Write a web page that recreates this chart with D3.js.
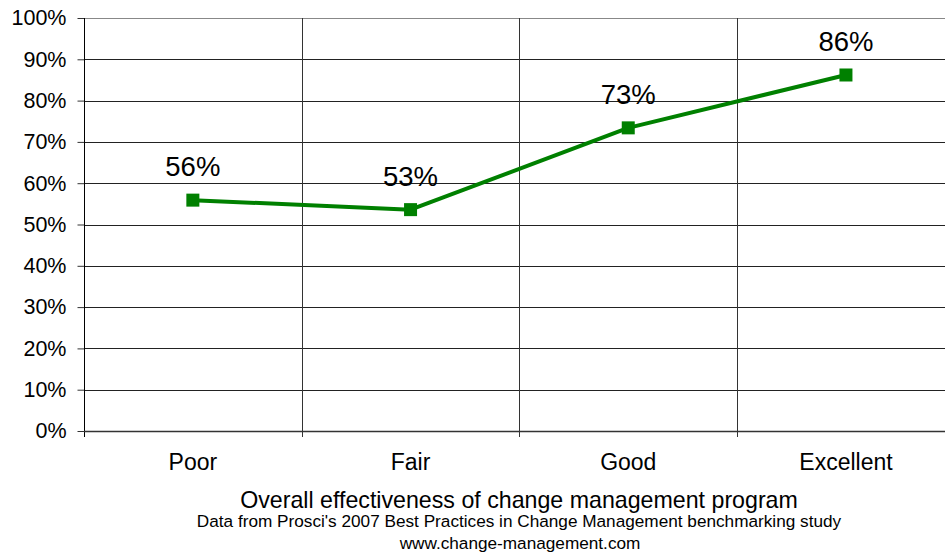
<!DOCTYPE html>
<html>
<head>
<meta charset="utf-8">
<script src="https://cdn.jsdelivr.net/npm/d3@7"></script>
<style>
  html, body { margin: 0; padding: 0; background: #fff; }
  svg { display: block; font-family: Arial, "Liberation Sans", sans-serif; }
</style>
</head>
<body>
<svg id="chart" width="945" height="556"></svg>
<script>
const categories = ["Poor", "Fair", "Good", "Excellent"];
const values = [55.9, 53.6, 73.4, 86.2];
const valueLabels = ["56%", "53%", "73%", "86%"];
const yTicks = [0, 10, 20, 30, 40, 50, 60, 70, 80, 90, 100];
const xTitle = "Overall effectiveness of change management program";
const source1 = "Data from Prosci's 2007 Best Practices in Change Management benchmarking study";
const source2 = "www.change-management.com";

(function () {
const svg = d3.select("#chart");
const pLeft = 84, pTop = 18, pBottom = 431, bandW = 217.7;
const x = d3.scaleBand().domain(categories).range([pLeft, pLeft + bandW * categories.length]).padding(0);
const y = d3.scaleLinear().domain([0, 100]).range([pBottom, pTop]);

// horizontal gridlines
svg.append("g").selectAll("line").data(yTicks.filter(d => d > 0)).join("line")
  .attr("x1", pLeft).attr("x2", 945)
  .attr("y1", d => Math.round(y(d)) + 0.5).attr("y2", d => Math.round(y(d)) + 0.5)
  .attr("stroke", d => d === 100 ? "#888" : "#222").attr("stroke-width", 1);

// vertical gridlines (category boundaries)
const bounds = categories.slice(1).map(c => x(c));
svg.append("g").selectAll("line").data(bounds).join("line")
  .attr("x1", d => Math.round(d) + 0.5).attr("x2", d => Math.round(d) + 0.5)
  .attr("y1", pTop).attr("y2", pBottom + 6)
  .attr("stroke", "#333").attr("stroke-width", 1);

// y axis
const yAxis = d3.axisLeft(y).tickValues(yTicks).tickFormat(d => d + "%").tickSize(7).tickPadding(11);
const gy = svg.append("g").attr("transform", `translate(${pLeft + 0.5},0)`).call(yAxis);
gy.select(".domain").remove();
gy.selectAll(".tick line").attr("stroke", "#333");
gy.selectAll(".tick text").attr("font-size", 21.5).attr("fill", "#000")
  .attr("font-family", "Arial, 'Liberation Sans', sans-serif");
svg.append("line").attr("x1", pLeft + 0.5).attr("x2", pLeft + 0.5).attr("y1", pTop).attr("y2", pBottom + 6)
  .attr("stroke", "#000").attr("stroke-width", 1);

// x axis baseline
svg.append("line").attr("x1", pLeft).attr("x2", 945).attr("y1", pBottom + 0.5).attr("y2", pBottom + 0.5)
  .attr("stroke", "#333").attr("stroke-width", 1.5);
const xAxis = d3.axisBottom(x).tickSize(0).tickPadding(30);
const gx = svg.append("g").attr("transform", `translate(0,${pBottom})`).call(xAxis);
gx.select(".domain").remove();
gx.selectAll(".tick text").attr("font-size", 23).attr("fill", "#000")
  .attr("font-family", "Arial, 'Liberation Sans', sans-serif").attr("dy", 0).attr("y", 39);

// line
const cx = c => x(c) + x.bandwidth() / 2;
const line = d3.line().x((d, i) => cx(categories[i])).y(d => y(d));
svg.append("path").datum(values).attr("d", line)
  .attr("fill", "none").attr("stroke", "#008000").attr("stroke-width", 4).attr("stroke-linejoin", "round");

// markers
const ms = 13;
svg.append("g").selectAll("rect").data(values).join("rect")
  .attr("x", (d, i) => cx(categories[i]) - ms / 2)
  .attr("y", d => y(d) - ms / 2)
  .attr("width", ms).attr("height", ms).attr("fill", "#008000");

// value labels
svg.append("g").selectAll("text").data(values).join("text")
  .attr("x", (d, i) => cx(categories[i]))
  .attr("y", d => y(d) - 24)
  .attr("text-anchor", "middle").attr("font-size", 27.5).attr("fill", "#000")
  .text((d, i) => valueLabels[i]);

// titles
svg.append("text").attr("x", 519).attr("y", 508).attr("text-anchor", "middle")
  .attr("font-size", 23.2).attr("fill", "#000").text(xTitle);
svg.append("text").attr("x", 519).attr("y", 527).attr("text-anchor", "middle")
  .attr("font-size", 17.2).attr("fill", "#000").text(source1);
svg.append("text").attr("x", 520).attr("y", 549).attr("text-anchor", "middle")
  .attr("font-size", 17.2).attr("fill", "#000").text(source2);
})();
</script>
</body>
</html>
